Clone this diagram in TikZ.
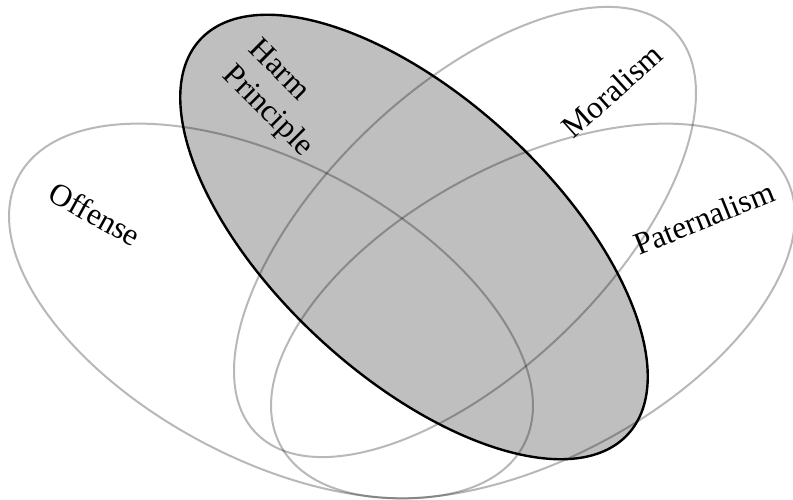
\documentclass[tikz,border=0pt]{standalone}
\usepackage{fontspec}
\setmainfont{Liberation Serif}
\usetikzlibrary{shapes.geometric}
\tikzset{
  set/.style={ellipse, inner sep=0pt, outer sep=0pt, draw=black, draw opacity=0.28, line width=2pt},
  harmset/.style={ellipse, inner sep=0pt, outer sep=0pt, draw=black, fill=black!25, line width=2.4pt},
  lbl/.style={inner sep=0pt, font=\fontsize{31.5}{37}\selectfont}
}
\begin{document}
\begin{tikzpicture}[x=1pt,y=1pt]
\useasboundingbox (0,0) rectangle (793,500);
\node[harmset, minimum width=582pt, minimum height=278pt, rotate=-42.7] (harm) at (414,263) {};
\node[set, minimum width=572pt, minimum height=296pt, rotate=-28] (offense) at (271,189) {};
\node[set, minimum width=572pt, minimum height=296pt, rotate=28] (paternalism) at (533,189) {};
\node[set, minimum width=580pt, minimum height=282pt, rotate=43.8] (moralism) at (465,268) {};
\node[lbl, rotate=-29] (toff) at (95,286) {Offense};
\node[lbl, rotate=-45, align=left] (tharm) at (280,401) {Harm\\Principle};
\node[lbl, rotate=42] (tmor) at (612,409) {Moralism};
\node[lbl, rotate=22] (tpat) at (704,282) {Paternalism};
\end{tikzpicture}
\end{document}
